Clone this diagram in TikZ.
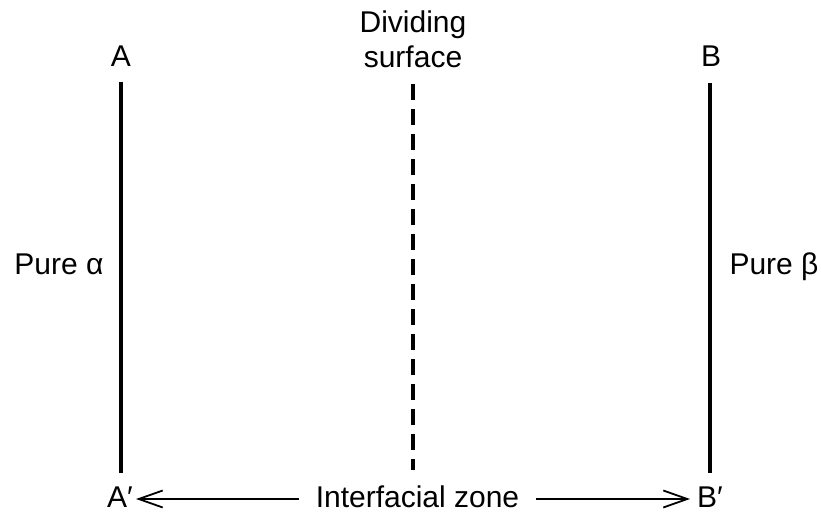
\documentclass[tikz,border=0pt]{standalone}
\usepackage{fontspec}
\setmainfont{Liberation Sans}
\usetikzlibrary{arrows.meta}
\begin{document}
\begin{tikzpicture}[x=1pt,y=-1pt,
  lbl/.style={inner sep=0pt,anchor=base,font=\fontsize{30}{35}\selectfont},
  solidline/.style={line width=3.2pt},
  dashline/.style={line width=3.6pt,dash pattern=on 16pt off 9pt},
  arr/.style={line width=1.8pt,-{Straight Barb[length=24pt,width=17pt,line width=1.8pt]}}]
\useasboundingbox (0,0) rectangle (821,518);
\node[lbl] (A) at (121,67) {A};
\node[lbl] (B) at (711,67) {B};
\node[lbl] (div) at (413,33) {Dividing};
\node[lbl] (surf) at (413,68) {surface};
\node[lbl] (pa) at (59,275) {Pure α};
\node[lbl] (pb) at (774,275) {Pure β};
\node[lbl,anchor=base west] (Ap) at (107,507) {A′};
\node[lbl,anchor=base west] (Bp) at (697,507) {B′};
\node[lbl] (zone) at (417.5,507) {Interfacial zone};
\draw[solidline,shorten <=15pt,shorten >=13pt] (A.south) -- (A.south |- Ap.north);
\draw[solidline,shorten <=16pt,shorten >=13pt] ([xshift=-1pt]B.south) -- ([xshift=-1pt]B.south |- Bp.north);
\draw[dashline,shorten <=16pt,shorten >=15pt] (surf.south) -- (surf.south |- zone.north);
\draw[arr,shorten <=17pt,shorten >=3pt] ([yshift=8pt]zone.base west) -- ([yshift=8pt]Ap.base east);
\draw[arr,shorten <=17pt,shorten >=7pt] ([yshift=8pt]zone.base east) -- ([yshift=8pt]Bp.base west);
\end{tikzpicture}
\end{document}
